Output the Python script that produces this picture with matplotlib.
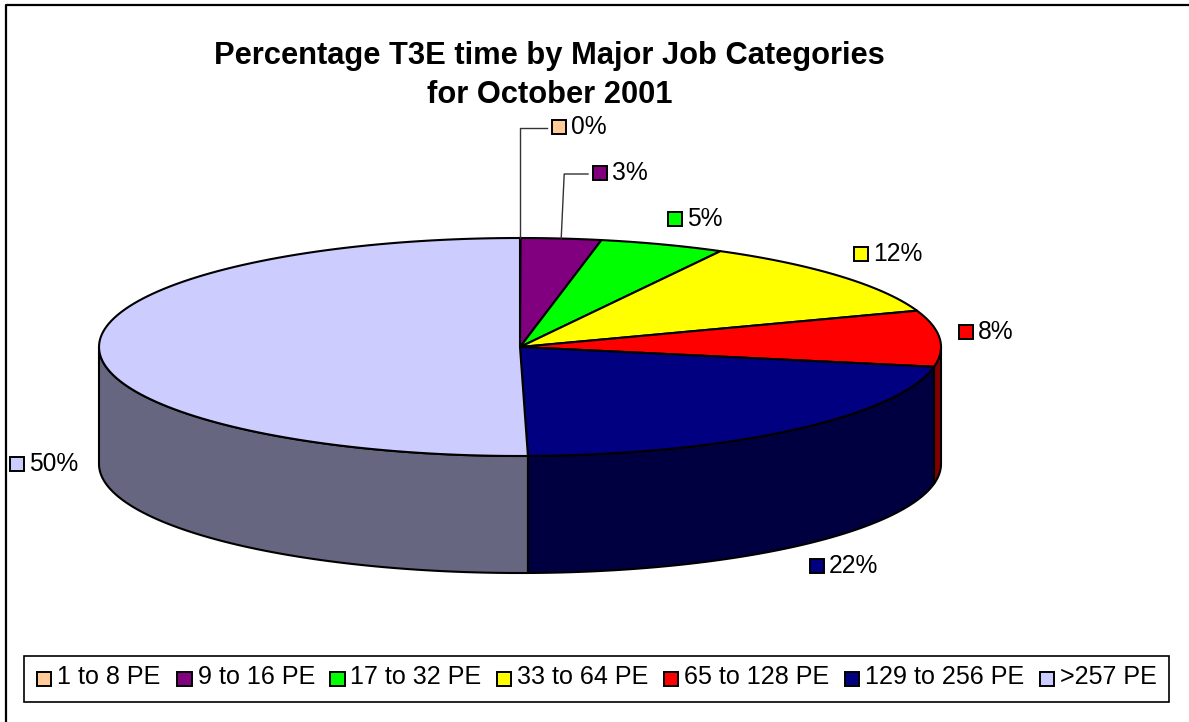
import numpy as np
import matplotlib
matplotlib.use('Agg')
import matplotlib.pyplot as plt
from matplotlib.patches import Polygon, Rectangle

plt.rcParams['font.family'] = ['Liberation Sans', 'DejaVu Sans']

categories = ['1 to 8 PE', '9 to 16 PE', '17 to 32 PE', '33 to 64 PE',
              '65 to 128 PE', '129 to 256 PE', '>257 PE']
values = [0.02, 3.08, 4.8, 11.7, 8.3, 21.8, 50.3]
colors = ['#FFCC99', '#800080', '#00FF00', '#FFFF00', '#FF0000', '#000080', '#CCCCFF']
side_colors = ['#806650', '#400040', '#008000', '#808000', '#800000', '#000040', '#666680']
title = 'Percentage T3E time by Major Job Categories\nfor October 2001'

# swatch position of each data label, in pixels
label_pos = [(559, 127), (600, 173), (675, 219), (861, 254), (966, 332), (817, 566), (17, 464)]
legend_x = [44, 184.5, 337.5, 504, 671, 852, 1047]

CX, CY = 520, 347
RX, RY = 421, 109
DEPTH = 117


def ell(t):
    # t in degrees, clockwise from the top of the pie
    r = np.radians(t)
    return CX + RX * np.sin(r), CY - RY * np.cos(r)


def swatch(ax, x, y, color):
    ax.add_patch(Rectangle((x - 7.2, y - 7.2), 14.4, 14.4, fc=color, ec='black', lw=1.4, zorder=6))


fig = plt.figure(figsize=(11.89, 7.22), dpi=100)
ax = fig.add_axes([0, 0, 1, 1])
ax.set_xlim(0, 1189)
ax.set_ylim(722, 0)
ax.axis('off')

# chart frame, only the top and left edges fall inside the picture
ax.plot([6, 6, 1189], [722, 5, 5], color='black', lw=1.6)

edges = np.concatenate([[0], np.cumsum(values)]) / sum(values) * 360

# walls of the front half
for i in range(len(values)):
    a = max(edges[i], 90)
    b = min(edges[i + 1], 270)
    if b <= a:
        continue
    t = np.linspace(a, b, 120)
    x, y = ell(t)
    pts = np.column_stack([np.r_[x, x[::-1]], np.r_[y, y[::-1] + DEPTH]])
    ax.add_patch(Polygon(pts, fc=side_colors[i], ec='black', lw=1.5, zorder=2))

# top face
for i in range(len(values)):
    t = np.linspace(edges[i], edges[i + 1], 120)
    x, y = ell(t)
    pts = np.column_stack([np.r_[CX, x], np.r_[CY, y]])
    ax.add_patch(Polygon(pts, fc=colors[i], ec='black', lw=1.5, zorder=3))

# data labels
for i, v in enumerate(values):
    lx, ly = label_pos[i]
    swatch(ax, lx, ly, colors[i])
    ax.text(lx + 12, ly, f'{v:.0f}%', fontsize=17.7, va='center', ha='left', color='black', zorder=6)

# leader lines for the two small slices
for i, dx in [(0, 0), (1, 3)]:
    mid = (edges[i] + edges[i + 1]) / 2
    x0, y0 = ell(mid)
    lx, ly = label_pos[i]
    ax.plot([x0, x0 + dx, lx - 12], [y0, ly + 1, ly + 1], color='#333333', lw=1, zorder=4)

ax.text(549.5, 75.5, title, fontsize=22.2, fontweight='bold', ha='center', va='center',
        linespacing=1.39, color='black')

# legend
ax.add_patch(Rectangle((24, 656), 1145, 46, fc='white', ec='black', lw=1.2, zorder=5))
for x, name, c in zip(legend_x, categories, colors):
    swatch(ax, x, 679, c)
    ax.text(x + 13, 677, name, fontsize=18.1, va='center', ha='left', color='black', zorder=6)

fig.savefig('out.png', dpi=100)
